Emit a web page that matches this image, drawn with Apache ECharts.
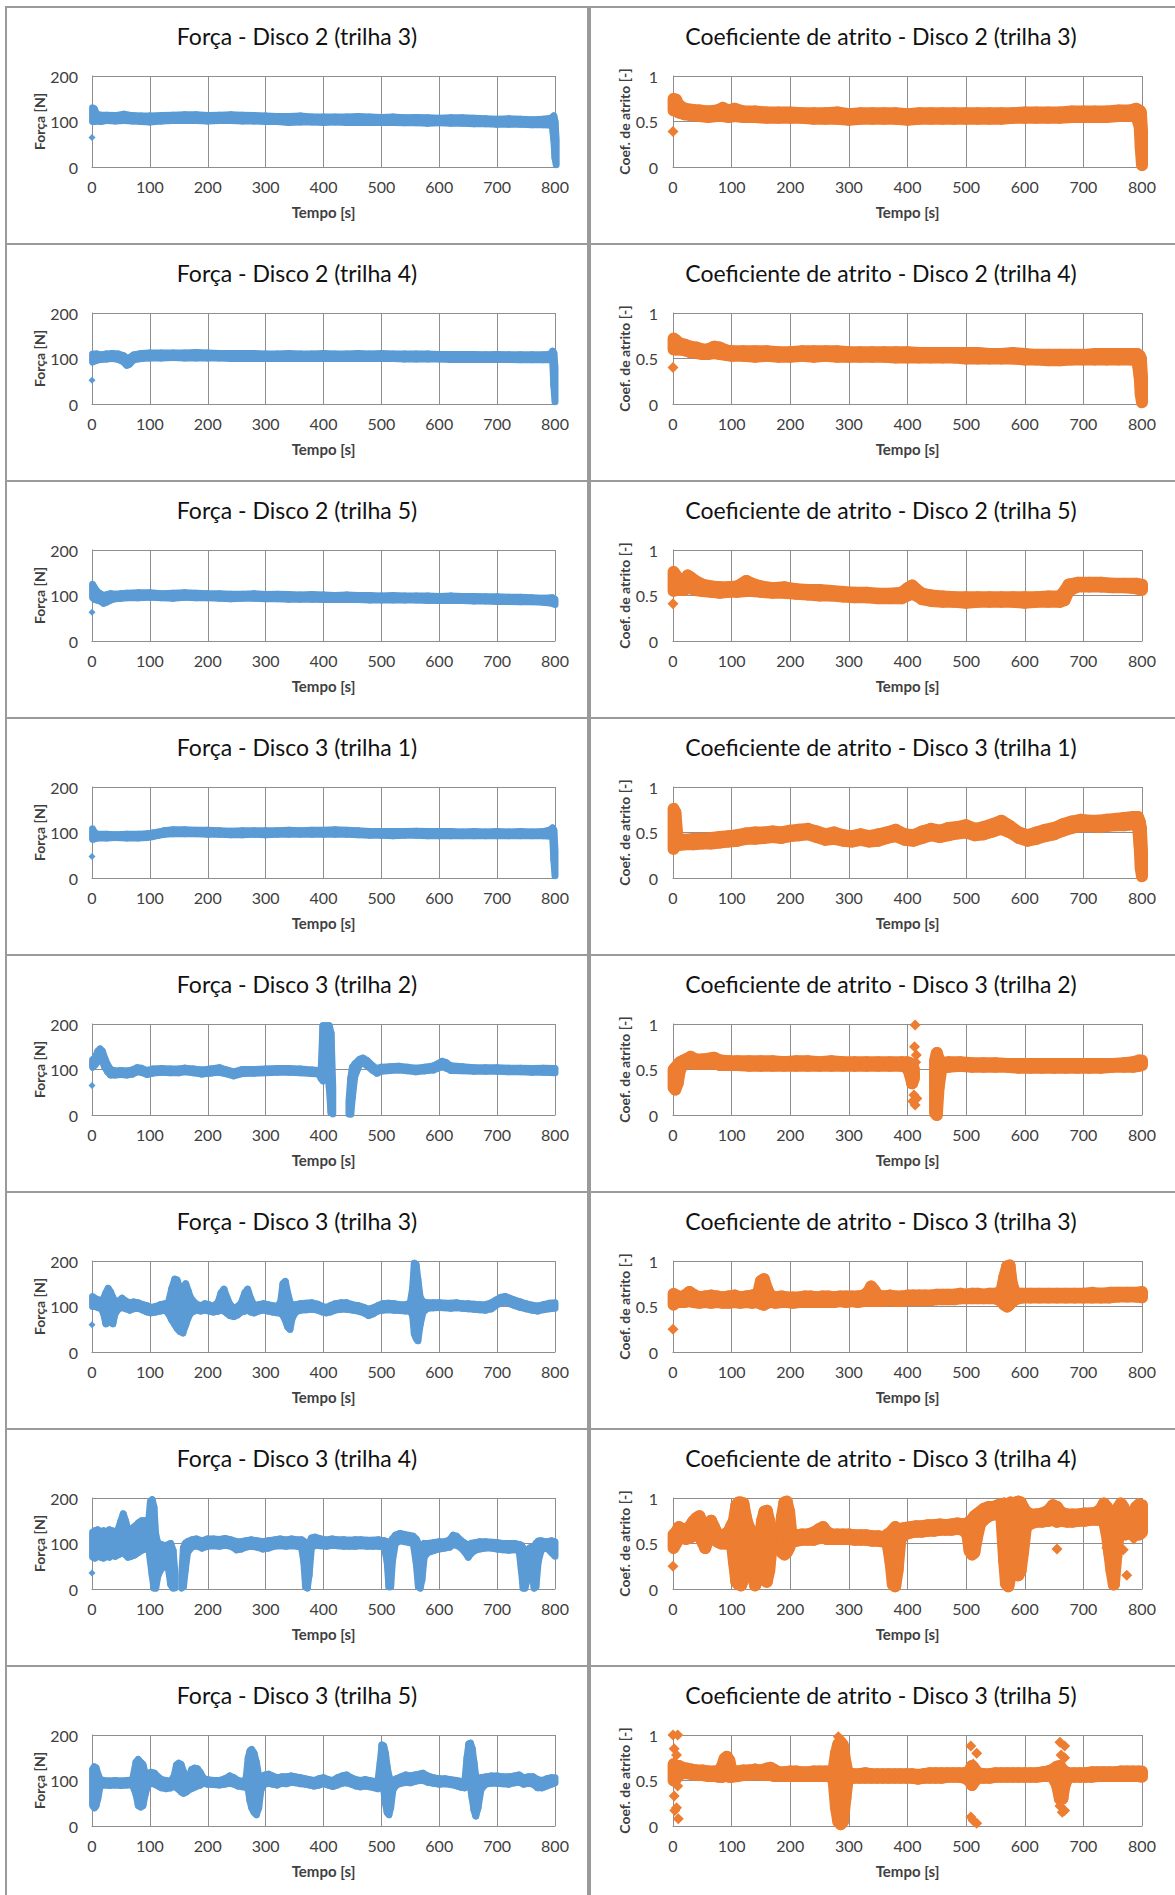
<!DOCTYPE html>
<html><head><meta charset="utf-8">
<script src="https://cdn.jsdelivr.net/npm/echarts@6/dist/echarts.min.js"></script>
<style>html,body{margin:0;padding:0;background:#fff}#c{width:1175px;height:1895px}</style>
</head><body><div id="c"></div>
<script>
// ---------- axis ticks ----------
const timeTicks = [0,100,200,300,400,500,600,700,800];
const forceTicks = [0,100,200];
const coefTicks = [0,0.5,1];

// ---------- titles ----------
const forceTitles = ['Força - Disco 2 (trilha 3)','Força - Disco 2 (trilha 4)','Força - Disco 2 (trilha 5)','Força - Disco 3 (trilha 1)','Força - Disco 3 (trilha 2)','Força - Disco 3 (trilha 3)','Força - Disco 3 (trilha 4)','Força - Disco 3 (trilha 5)'];
const coefTitles = ['Coeficiente de atrito - Disco 2 (trilha 3)','Coeficiente de atrito - Disco 2 (trilha 4)','Coeficiente de atrito - Disco 2 (trilha 5)','Coeficiente de atrito - Disco 3 (trilha 1)','Coeficiente de atrito - Disco 3 (trilha 2)','Coeficiente de atrito - Disco 3 (trilha 3)','Coeficiente de atrito - Disco 3 (trilha 4)','Coeficiente de atrito - Disco 3 (trilha 5)'];

// ---------- data: [time, low, high] of the dense point cloud; null = gap ----------
const forca_d2t3 = [[1,100,130],[4,100,128],[8,101,116],[15,100,114],[25,102,114],[40,101,113],[55,102,116],[70,101,113],[85,100,112],[100,99,112],[120,101,113],[140,102,114],[160,102,115],[180,102,115],[200,101,113],[220,102,114],[240,102,115],[260,101,114],[280,101,113],[300,100,112],[320,100,111],[340,98,111],[360,99,112],[380,99,110],[400,98,110],[420,99,110],[440,98,110],[460,98,111],[480,98,110],[500,98,109],[520,98,110],[540,97,108],[560,97,109],[580,96,108],[600,97,107],[620,96,108],[640,96,108],[660,95,107],[680,95,106],[700,94,105],[720,94,106],[740,94,105],[760,93,104],[780,93,105],[795,92,108],[798,60,112],[800,20,100],[802,5,60]];
const forca_d2t3_pts = [[0,65]];
const coef_d2t3 = [[1,0.62,0.75],[5,0.62,0.74],[10,0.6,0.68],[20,0.58,0.64],[30,0.57,0.63],[45,0.56,0.62],[60,0.55,0.61],[75,0.56,0.62],[85,0.56,0.65],[95,0.55,0.62],[105,0.56,0.64],[120,0.55,0.61],[140,0.55,0.61],[160,0.54,0.6],[180,0.54,0.6],[200,0.54,0.6],[220,0.54,0.59],[240,0.53,0.59],[260,0.53,0.59],[280,0.53,0.6],[300,0.52,0.58],[320,0.53,0.59],[340,0.53,0.59],[360,0.53,0.59],[380,0.53,0.59],[400,0.52,0.58],[420,0.53,0.59],[440,0.53,0.59],[460,0.53,0.59],[480,0.53,0.59],[500,0.53,0.59],[520,0.53,0.59],[540,0.53,0.59],[560,0.53,0.59],[580,0.54,0.59],[600,0.54,0.6],[620,0.54,0.6],[640,0.54,0.6],[660,0.54,0.6],[680,0.55,0.61],[700,0.55,0.61],[720,0.55,0.61],[740,0.55,0.61],[760,0.56,0.62],[780,0.56,0.62],[790,0.56,0.64],[796,0.45,0.62],[798,0.2,0.6],[800,0.02,0.4]];
const coef_d2t3_pts = [[0,0.39]];

const forca_d2t4 = [[1,92,110],[8,96,110],[15,98,108],[25,99,110],[35,100,111],[45,98,110],[55,92,106],[60,85,100],[65,88,102],[72,97,108],[85,100,111],[100,101,112],[120,101,112],[140,102,112],[160,101,112],[180,101,113],[200,101,112],[220,101,111],[240,100,111],[260,100,111],[280,100,111],[300,100,110],[320,100,110],[340,100,111],[360,100,110],[380,100,110],[400,100,111],[420,100,110],[440,100,110],[460,100,111],[480,100,110],[500,100,111],[520,100,110],[540,99,110],[560,99,110],[580,99,110],[600,99,109],[620,98,109],[640,98,109],[660,98,109],[680,98,108],[700,98,109],[720,98,108],[740,97,108],[760,97,108],[780,97,108],[793,97,110],[796,95,116],[798,40,112],[800,5,80]];
const forca_d2t4_pts = [[0,52]];
const coef_d2t4 = [[1,0.6,0.72],[5,0.6,0.7],[10,0.6,0.67],[20,0.59,0.65],[30,0.57,0.63],[40,0.56,0.62],[50,0.55,0.6],[60,0.55,0.6],[70,0.56,0.63],[80,0.55,0.62],[90,0.54,0.59],[100,0.53,0.58],[120,0.53,0.58],[140,0.52,0.58],[160,0.53,0.58],[180,0.52,0.57],[200,0.52,0.57],[220,0.53,0.58],[240,0.52,0.58],[260,0.53,0.58],[280,0.52,0.58],[300,0.52,0.57],[320,0.52,0.57],[340,0.52,0.57],[360,0.52,0.57],[380,0.51,0.57],[400,0.51,0.57],[420,0.51,0.56],[440,0.51,0.56],[460,0.51,0.56],[480,0.51,0.56],[500,0.5,0.56],[520,0.5,0.56],[540,0.5,0.55],[560,0.5,0.55],[580,0.5,0.56],[600,0.49,0.55],[620,0.49,0.54],[640,0.48,0.54],[660,0.48,0.54],[680,0.49,0.54],[700,0.49,0.54],[720,0.49,0.55],[740,0.49,0.55],[760,0.49,0.55],[780,0.49,0.55],[792,0.48,0.55],[796,0.3,0.53],[798,0.1,0.5],[800,0.02,0.3]];
const coef_d2t4_pts = [[0,0.4]];

const forca_d2t5 = [[1,95,125],[4,92,118],[8,90,110],[14,88,104],[20,83,100],[26,86,102],[32,90,104],[40,93,103],[50,94,104],[60,95,105],[80,95,106],[100,96,106],[120,95,104],[140,94,105],[160,96,106],[180,95,105],[200,95,104],[220,94,104],[240,93,103],[260,94,103],[280,94,104],[300,93,102],[320,93,103],[340,92,102],[360,92,101],[380,92,102],[400,91,101],[420,91,100],[440,91,101],[460,91,100],[480,90,100],[500,90,99],[520,90,100],[540,90,99],[560,90,99],[580,89,99],[600,89,98],[620,89,99],[640,89,98],[660,88,98],[680,88,97],[700,87,97],[720,87,96],[740,86,96],[760,86,95],[780,85,94],[795,83,95],[800,80,92]];
const forca_d2t5_pts = [[0,63],[801,40]];
const coef_d2t5 = [[1,0.55,0.76],[5,0.58,0.72],[10,0.56,0.68],[18,0.56,0.66],[25,0.58,0.72],[30,0.58,0.7],[38,0.56,0.66],[50,0.55,0.62],[65,0.54,0.6],[80,0.53,0.59],[95,0.54,0.59],[110,0.54,0.6],[125,0.55,0.66],[135,0.55,0.63],[150,0.54,0.6],[170,0.53,0.58],[190,0.53,0.59],[210,0.52,0.57],[230,0.51,0.56],[250,0.5,0.56],[270,0.5,0.55],[290,0.49,0.54],[310,0.48,0.53],[330,0.48,0.53],[350,0.47,0.52],[370,0.47,0.52],[390,0.47,0.53],[400,0.5,0.58],[408,0.52,0.61],[415,0.5,0.57],[425,0.46,0.52],[440,0.44,0.5],[460,0.43,0.49],[480,0.43,0.48],[500,0.42,0.48],[520,0.43,0.48],[540,0.43,0.48],[560,0.43,0.48],[580,0.43,0.48],[600,0.42,0.48],[620,0.43,0.48],[640,0.43,0.49],[660,0.43,0.49],[668,0.45,0.55],[675,0.55,0.62],[690,0.6,0.64],[710,0.6,0.64],[730,0.6,0.64],[750,0.59,0.63],[770,0.59,0.63],[790,0.58,0.63],[800,0.56,0.62]];
const coef_d2t5_pts = [[0,0.41],[801,0.35]];

const forca_d3t1 = [[1,85,108],[4,86,100],[10,88,96],[25,88,96],[40,89,95],[60,88,96],[80,88,96],[95,89,97],[105,91,99],[115,94,101],[125,96,104],[140,97,106],[160,97,106],[180,97,105],[200,96,105],[220,96,104],[240,95,103],[260,95,104],[280,96,104],[300,95,104],[320,96,104],[340,96,105],[360,96,104],[380,96,105],[400,96,105],[420,96,106],[440,96,105],[460,95,104],[480,94,102],[500,94,102],[520,93,102],[540,94,102],[560,94,103],[580,93,102],[600,93,102],[620,93,102],[640,93,101],[660,93,102],[680,93,101],[700,93,102],[720,93,101],[740,93,102],[760,93,101],[780,93,102],[793,92,106],[796,90,110],[798,40,105],[800,5,60]];
const forca_d3t1_pts = [[0,47]];
const coef_d3t1 = [[1,0.32,0.76],[4,0.36,0.72],[8,0.36,0.42],[20,0.37,0.42],[35,0.37,0.43],[50,0.38,0.43],[65,0.38,0.44],[80,0.39,0.45],[95,0.4,0.46],[110,0.41,0.47],[125,0.43,0.49],[140,0.43,0.5],[155,0.44,0.5],[170,0.45,0.51],[185,0.44,0.5],[200,0.46,0.52],[215,0.47,0.53],[230,0.48,0.54],[245,0.45,0.51],[260,0.42,0.48],[275,0.43,0.5],[290,0.41,0.47],[305,0.4,0.46],[320,0.42,0.48],[335,0.4,0.46],[350,0.41,0.48],[365,0.44,0.5],[380,0.46,0.53],[395,0.42,0.48],[410,0.41,0.47],[425,0.44,0.51],[440,0.47,0.54],[455,0.45,0.52],[470,0.47,0.55],[485,0.49,0.56],[500,0.5,0.58],[515,0.47,0.54],[530,0.48,0.56],[545,0.51,0.59],[560,0.54,0.63],[575,0.5,0.57],[590,0.44,0.5],[605,0.41,0.47],[620,0.43,0.5],[635,0.46,0.53],[650,0.48,0.55],[665,0.52,0.59],[680,0.55,0.62],[695,0.57,0.64],[710,0.57,0.63],[725,0.56,0.63],[740,0.57,0.64],[755,0.58,0.65],[770,0.58,0.66],[785,0.59,0.67],[793,0.58,0.67],[796,0.35,0.62],[798,0.1,0.55],[800,0.02,0.3]];
const coef_d3t1_pts = [];

const forca_d3t2 = [[1,105,122],[5,110,125],[10,118,140],[14,125,145],[18,118,140],[22,105,125],[27,95,110],[32,88,100],[40,88,97],[50,89,98],[60,88,97],[70,90,99],[78,95,104],[85,94,103],[95,89,98],[105,92,101],[120,94,102],[135,93,101],[150,93,101],[160,95,103],[175,93,101],[190,90,99],[205,92,101],[220,94,104],[230,91,100],[245,86,95],[260,91,100],[280,92,100],[300,93,101],[320,94,102],[340,94,102],[360,93,101],[380,91,99],[392,90,98],[396,80,100],[399,75,196],[403,90,196],[407,110,196],[410,60,196],[413,5,180],[416,2,60],null,[444,2,30],[447,2,80],[450,40,105],[454,85,112],[462,110,122],[468,115,125],[475,108,120],[485,98,108],[492,92,102],[500,96,105],[515,98,106],[530,99,107],[545,97,105],[560,95,103],[575,97,105],[590,99,108],[605,106,118],[612,103,115],[620,98,108],[640,97,106],[660,96,104],[680,96,104],[700,96,104],[720,95,103],[740,95,103],[760,94,102],[780,94,103],[800,93,102]];
const forca_d3t2_pts = [[0,65],[801,55]];
const coef_d3t2 = [[1,0.3,0.5],[4,0.28,0.52],[8,0.35,0.55],[12,0.5,0.58],[18,0.56,0.6],[25,0.57,0.62],[30,0.58,0.64],[38,0.56,0.61],[50,0.56,0.61],[62,0.56,0.62],[70,0.57,0.63],[80,0.55,0.6],[95,0.55,0.59],[110,0.55,0.59],[130,0.54,0.59],[150,0.54,0.59],[170,0.54,0.59],[190,0.54,0.58],[210,0.54,0.59],[230,0.54,0.59],[250,0.54,0.58],[270,0.54,0.59],[290,0.54,0.58],[310,0.54,0.58],[330,0.54,0.58],[350,0.54,0.58],[370,0.54,0.58],[390,0.54,0.58],[400,0.52,0.58],[404,0.45,0.57],[408,0.35,0.55],[411,0.4,0.5],null,[447,0.02,0.6],[450,0.0,0.68],[453,0.3,0.62],[458,0.52,0.57],[470,0.53,0.58],[490,0.54,0.58],[510,0.53,0.57],[530,0.53,0.57],[550,0.53,0.57],[570,0.53,0.56],[590,0.52,0.56],[610,0.52,0.56],[630,0.52,0.56],[650,0.52,0.56],[670,0.52,0.56],[690,0.52,0.56],[710,0.52,0.56],[730,0.52,0.56],[750,0.53,0.56],[770,0.53,0.57],[785,0.53,0.58],[795,0.54,0.6],[800,0.55,0.6]];
const coef_d3t2_pts = [[413,0.99],[412,0.75],[415,0.66],[414,0.58],[411,0.22],[416,0.18],[409,0.15],[413,0.11],[801,0.32]];

const forca_d3t3 = [[1,100,122],[5,100,118],[10,98,115],[16,95,112],[20,85,118],[24,62,130],[28,65,140],[32,70,132],[36,62,120],[40,85,110],[46,95,112],[52,98,118],[58,95,112],[65,92,108],[72,95,110],[80,96,108],[88,92,104],[95,88,102],[102,86,98],[110,88,100],[118,90,104],[126,92,106],[132,85,108],[138,70,140],[143,60,160],[147,52,158],[152,45,140],[157,42,130],[162,60,150],[166,75,135],[170,85,120],[176,90,110],[182,92,104],[188,90,102],[195,92,106],[202,90,104],[210,88,100],[218,90,110],[223,92,130],[228,90,138],[233,85,120],[238,80,105],[245,78,96],[252,82,100],[258,88,108],[264,90,130],[269,92,138],[274,88,118],[280,86,102],[288,90,104],[296,92,106],[304,90,104],[312,88,102],[320,86,100],[326,85,110],[330,80,150],[334,70,155],[338,55,130],[342,50,110],[346,75,100],[352,88,104],[360,92,106],[370,93,107],[380,94,108],[390,92,105],[398,88,100],[405,86,98],[412,88,102],[420,92,106],[430,94,108],[440,94,108],[450,92,104],[460,90,102],[470,86,98],[478,80,94],[486,84,97],[494,90,102],[502,92,106],[512,93,107],[522,92,106],[532,91,104],[542,90,104],[550,90,108],[554,80,140],[557,40,195],[560,30,192],[563,25,160],[567,60,120],[572,88,110],[580,96,108],[590,97,108],[600,98,108],[610,97,107],[620,96,107],[630,97,108],[640,96,106],[650,95,106],[660,94,105],[670,93,104],[680,92,104],[690,95,108],[698,102,114],[706,108,120],[714,110,122],[722,106,118],[730,102,114],[740,98,110],[750,95,106],[760,92,103],[770,90,101],[780,93,104],[790,95,107],[800,96,108]];
const forca_d3t3_pts = [[0,60],[801,53]];
const coef_d3t3 = [[1,0.52,0.64],[6,0.55,0.62],[12,0.55,0.6],[20,0.55,0.62],[28,0.56,0.66],[35,0.55,0.63],[45,0.54,0.6],[55,0.55,0.61],[65,0.54,0.62],[75,0.55,0.61],[85,0.54,0.6],[95,0.54,0.61],[105,0.55,0.62],[115,0.54,0.6],[125,0.55,0.61],[135,0.54,0.62],[145,0.55,0.64],[150,0.53,0.78],[155,0.52,0.8],[160,0.54,0.7],[166,0.55,0.62],[175,0.54,0.6],[185,0.55,0.61],[195,0.55,0.6],[205,0.54,0.6],[215,0.55,0.6],[225,0.55,0.61],[235,0.55,0.61],[245,0.55,0.6],[255,0.55,0.61],[265,0.55,0.61],[275,0.55,0.6],[285,0.56,0.61],[295,0.55,0.61],[305,0.56,0.61],[315,0.55,0.61],[325,0.56,0.62],[333,0.56,0.66],[338,0.56,0.72],[343,0.56,0.68],[350,0.56,0.62],[360,0.56,0.61],[370,0.57,0.62],[380,0.56,0.61],[390,0.56,0.61],[400,0.57,0.62],[410,0.57,0.62],[420,0.57,0.62],[430,0.57,0.62],[440,0.57,0.62],[450,0.58,0.63],[460,0.58,0.63],[470,0.58,0.63],[480,0.58,0.63],[490,0.59,0.64],[500,0.59,0.63],[510,0.59,0.64],[520,0.59,0.64],[530,0.59,0.63],[540,0.59,0.64],[550,0.59,0.64],[560,0.56,0.66],[565,0.52,0.82],[570,0.5,0.94],[574,0.52,0.95],[578,0.55,0.75],[584,0.58,0.64],[595,0.6,0.64],[610,0.6,0.64],[625,0.6,0.64],[640,0.6,0.64],[655,0.6,0.64],[670,0.6,0.64],[685,0.6,0.64],[700,0.6,0.64],[715,0.6,0.65],[730,0.6,0.64],[745,0.6,0.65],[760,0.61,0.65],[775,0.61,0.65],[790,0.61,0.65],[800,0.6,0.66]];
const coef_d3t3_pts = [[0,0.25],[801,0.33]];

const forca_d3t4 = [[1,70,125],[5,68,128],[10,72,130],[15,70,126],[20,68,128],[25,72,126],[30,70,130],[35,74,128],[40,72,126],[45,75,130],[50,78,150],[54,80,165],[58,75,150],[62,70,130],[68,72,132],[74,75,138],[80,80,145],[86,85,150],[92,88,150],[98,90,150],[101,60,192],[104,30,196],[107,2,180],[110,2,120],[114,30,100],[120,45,98],[126,50,95],[132,45,98],[136,10,100],[140,2,85],[143,2,40],null,[155,2,30],[158,5,90],[161,40,100],[165,80,104],[172,92,108],[180,95,110],[190,90,106],[200,94,110],[210,95,110],[220,94,109],[230,96,111],[240,94,108],[250,86,104],[258,88,104],[266,92,106],[275,94,108],[285,92,106],[295,88,104],[305,90,106],[315,94,108],[325,95,110],[335,94,108],[345,95,110],[355,94,108],[362,92,108],[366,60,105],[369,5,95],[372,2,80],[375,30,100],[379,90,112],[385,96,114],[395,95,110],[405,94,108],[415,96,110],[425,95,108],[435,94,108],[445,94,107],[455,94,108],[465,95,108],[475,94,107],[485,94,107],[495,94,108],[505,92,106],[510,60,104],[513,5,95],[516,5,90],[519,60,110],[524,100,118],[532,106,122],[540,104,120],[548,102,118],[555,100,116],[560,60,110],[564,5,100],[567,2,80],[570,20,90],[574,70,100],[580,80,100],[590,84,102],[600,88,104],[610,90,104],[618,92,108],[624,98,118],[630,96,116],[638,90,106],[645,80,100],[650,70,95],[655,78,100],[662,85,102],[670,88,104],[680,90,104],[690,90,103],[700,88,102],[710,86,100],[720,85,100],[730,86,100],[738,85,98],[742,40,96],[745,2,90],[748,2,70],[752,20,80],[756,60,90],[760,40,92],[764,2,90],[767,5,100],[771,60,105],[776,85,106],[782,90,104],[788,88,104],[794,80,106],[800,72,104]];
const forca_d3t4_pts = [[0,35],[801,25]];
const coef_d3t4 = [[1,0.45,0.6],[5,0.5,0.62],[10,0.55,0.68],[16,0.57,0.66],[22,0.55,0.65],[28,0.56,0.68],[34,0.58,0.74],[40,0.6,0.78],[45,0.62,0.8],[50,0.52,0.72],[55,0.45,0.65],[60,0.55,0.72],[65,0.6,0.75],[70,0.55,0.68],[76,0.52,0.6],[82,0.5,0.58],[88,0.5,0.6],[94,0.5,0.62],[100,0.52,0.7],[104,0.3,0.75],[108,0.08,0.92],[112,0.05,0.95],[116,0.04,0.95],[120,0.1,0.94],[124,0.3,0.8],[128,0.45,0.7],[132,0.4,0.65],[136,0.2,0.62],[140,0.04,0.6],[144,0.1,0.55],[148,0.3,0.55],[152,0.2,0.75],[156,0.1,0.85],[160,0.08,0.86],[164,0.2,0.75],[168,0.45,0.6],[175,0.5,0.58],[182,0.48,0.6],[186,0.4,0.8],[190,0.38,0.95],[194,0.4,0.96],[198,0.45,0.85],[202,0.52,0.6],[210,0.53,0.59],[220,0.54,0.6],[230,0.54,0.6],[240,0.54,0.62],[250,0.56,0.66],[256,0.57,0.68],[262,0.55,0.63],[270,0.55,0.6],[280,0.55,0.6],[290,0.55,0.6],[300,0.55,0.6],[310,0.54,0.59],[320,0.54,0.59],[330,0.54,0.59],[340,0.53,0.58],[350,0.53,0.58],[360,0.52,0.57],[366,0.5,0.6],[371,0.3,0.62],[375,0.05,0.65],[379,0.03,0.68],[383,0.2,0.66],[388,0.55,0.66],[395,0.6,0.67],[405,0.62,0.68],[415,0.63,0.69],[425,0.63,0.69],[435,0.64,0.7],[445,0.64,0.7],[455,0.65,0.71],[465,0.65,0.7],[475,0.65,0.71],[485,0.66,0.72],[495,0.65,0.71],[502,0.6,0.72],[506,0.42,0.74],[510,0.38,0.76],[514,0.4,0.8],[518,0.55,0.82],[524,0.72,0.85],[530,0.76,0.88],[538,0.8,0.9],[546,0.82,0.9],[554,0.82,0.92],[560,0.8,0.93],[565,0.3,0.94],[568,0.06,0.92],[572,0.03,0.93],[576,0.15,0.95],[580,0.3,0.94],[585,0.25,0.95],[589,0.15,0.96],[593,0.2,0.95],[597,0.4,0.9],[602,0.68,0.85],[610,0.72,0.82],[620,0.74,0.82],[630,0.74,0.83],[640,0.75,0.86],[648,0.76,0.92],[655,0.74,0.9],[662,0.75,0.84],[672,0.74,0.82],[682,0.74,0.82],[692,0.75,0.82],[702,0.75,0.83],[712,0.76,0.83],[722,0.76,0.84],[730,0.76,0.88],[735,0.75,0.94],[740,0.6,0.9],[744,0.4,0.86],[748,0.2,0.8],[752,0.05,0.7],[756,0.35,0.8],[760,0.6,0.9],[764,0.7,0.94],[768,0.65,0.9],[772,0.6,0.85],[776,0.65,0.82],[780,0.7,0.83],[786,0.7,0.85],[790,0.62,0.9],[795,0.6,0.93],[800,0.62,0.92]];
const coef_d3t4_pts = [[0,0.25],[655,0.44],[774,0.15],[768,0.43],[740,0.45],[750,0.3],[786,0.55],[760,0.58]];

const forca_d3t5 = [[1,45,125],[4,40,130],[7,45,128],[10,60,115],[14,88,102],[20,90,100],[30,89,99],[40,90,100],[50,89,99],[60,90,100],[70,90,101],[76,70,140],[80,45,146],[84,42,140],[88,45,135],[92,70,115],[96,88,115],[102,94,118],[108,92,116],[114,88,108],[120,84,102],[128,82,100],[136,84,98],[142,88,110],[146,84,134],[150,80,138],[154,75,135],[158,72,120],[163,75,105],[168,80,110],[172,82,124],[177,85,127],[182,88,126],[187,90,118],[193,94,104],[200,92,102],[210,91,100],[220,90,100],[230,92,104],[238,94,110],[245,92,106],[252,88,100],[260,86,98],[266,85,102],[270,80,150],[273,55,165],[276,40,168],[280,30,160],[284,25,140],[288,40,110],[292,80,108],[298,92,112],[305,94,114],[312,92,110],[320,90,106],[328,94,108],[336,93,108],[344,96,110],[352,95,108],[360,93,106],[368,92,104],[376,90,102],[384,88,100],[392,90,104],[400,93,106],[408,90,102],[416,87,100],[424,90,106],[432,94,110],[440,95,112],[448,92,106],[456,88,102],[464,86,100],[472,88,102],[480,86,100],[488,84,98],[494,82,98],[498,85,140],[501,90,178],[504,80,176],[507,50,160],[510,30,130],[513,25,110],[516,40,100],[520,80,100],[526,90,104],[534,94,108],[542,96,112],[550,95,110],[558,98,112],[566,100,114],[572,100,116],[580,96,110],[590,94,106],[600,92,104],[610,93,104],[620,91,102],[630,88,100],[638,85,98],[644,84,96],[648,90,150],[651,100,180],[654,85,182],[657,60,170],[660,35,140],[663,22,110],[667,40,100],[672,80,106],[680,92,108],[690,94,110],[700,94,110],[710,93,108],[720,92,108],[730,95,110],[738,96,112],[746,92,106],[754,94,108],[762,92,108],[770,84,102],[778,84,100],[786,88,104],[794,92,106],[800,94,106]];
const forca_d3t5_pts = [[801,55]];
const coef_d3t5 = [[1,0.5,0.68],[5,0.52,0.66],[10,0.56,0.66],[16,0.58,0.64],[24,0.58,0.63],[32,0.57,0.62],[40,0.56,0.61],[50,0.56,0.61],[60,0.55,0.6],[70,0.55,0.6],[78,0.54,0.6],[84,0.54,0.66],[88,0.55,0.74],[92,0.55,0.76],[96,0.54,0.72],[100,0.54,0.6],[110,0.55,0.6],[120,0.56,0.61],[130,0.56,0.61],[140,0.57,0.62],[150,0.56,0.61],[160,0.56,0.63],[166,0.56,0.64],[172,0.55,0.62],[180,0.55,0.59],[190,0.55,0.59],[200,0.55,0.6],[210,0.55,0.6],[220,0.55,0.59],[230,0.55,0.59],[240,0.55,0.6],[250,0.55,0.6],[260,0.55,0.6],[268,0.55,0.6],[274,0.5,0.62],[278,0.2,0.8],[282,0.05,0.9],[286,0.02,0.92],[290,0.05,0.88],[294,0.3,0.7],[298,0.52,0.58],[308,0.53,0.57],[318,0.53,0.57],[328,0.53,0.58],[338,0.53,0.57],[348,0.53,0.57],[358,0.53,0.57],[368,0.53,0.57],[378,0.53,0.57],[388,0.53,0.57],[398,0.53,0.57],[408,0.53,0.57],[418,0.52,0.56],[428,0.53,0.57],[438,0.53,0.58],[448,0.53,0.58],[458,0.53,0.58],[468,0.54,0.58],[478,0.54,0.58],[488,0.54,0.58],[498,0.53,0.58],[505,0.5,0.6],[510,0.45,0.66],[515,0.5,0.62],[520,0.53,0.58],[530,0.53,0.57],[540,0.53,0.57],[550,0.54,0.58],[560,0.54,0.58],[570,0.54,0.58],[580,0.54,0.58],[590,0.54,0.58],[600,0.54,0.58],[610,0.54,0.58],[620,0.54,0.58],[630,0.55,0.59],[640,0.55,0.6],[648,0.54,0.62],[655,0.45,0.65],[660,0.3,0.66],[664,0.3,0.62],[668,0.45,0.6],[674,0.54,0.58],[684,0.54,0.58],[694,0.54,0.58],[704,0.54,0.58],[714,0.54,0.59],[724,0.55,0.59],[734,0.55,0.59],[744,0.55,0.59],[754,0.55,0.59],[764,0.55,0.6],[774,0.55,0.6],[784,0.55,0.6],[794,0.55,0.6],[800,0.54,0.6]];
const coef_d3t5_pts = [[0,1.0],[8,1.0],[2,0.85],[6,0.78],[1,0.68],[8,0.44],[2,0.33],[6,0.2],[3,0.17],[9,0.08],[282,0.98],[290,0.92],[286,0.95],[508,0.88],[518,0.8],[512,0.68],[508,0.1],[512,0.06],[518,0.03],[660,0.92],[668,0.88],[662,0.78],[668,0.75],[664,0.38],[666,0.3],[660,0.22],[668,0.17],[664,0.15],[801,0.31]];

// ---------- assembly ----------
const forceBands = [forca_d2t3,forca_d2t4,forca_d2t5,forca_d3t1,forca_d3t2,forca_d3t3,forca_d3t4,forca_d3t5];
const forcePts = [forca_d2t3_pts,forca_d2t4_pts,forca_d2t5_pts,forca_d3t1_pts,forca_d3t2_pts,forca_d3t3_pts,forca_d3t4_pts,forca_d3t5_pts];
const coefBands = [coef_d2t3,coef_d2t4,coef_d2t5,coef_d3t1,coef_d3t2,coef_d3t3,coef_d3t4,coef_d3t5];
const coefPts = [coef_d2t3_pts,coef_d2t4_pts,coef_d2t5_pts,coef_d3t1_pts,coef_d3t2_pts,coef_d3t3_pts,coef_d3t4_pts,coef_d3t5_pts];

const BLUE = '#5B9BD5', ORANGE = '#ED7D31', GRID = '#8e8e8e', BORDER = '#9a9a9a', TXT = '#404040';
const FONT = 'Lato, "Noto Sans", sans-serif';
const ROW0 = 7, ROWH = 237;

function segments(arr){
  const out=[];
  for(let i=0;i<arr.length-1;i++){const a=arr[i],b=arr[i+1]; if(a&&b) out.push([a[0],a[1],a[2],b[0],b[1],b[2]]);}
  return out;
}

const grids=[], xAxes=[], yAxes=[], series=[], titles=[], graphics=[];
for(let r=0;r<8;r++){
  const top = ROW0 + ROWH*r;
  graphics.push({type:'rect', shape:{x:6,y:top,width:582,height:ROWH}, style:{fill:'none',stroke:BORDER,lineWidth:2}, silent:true});
  graphics.push({type:'rect', shape:{x:590,y:top,width:590,height:ROWH}, style:{fill:'none',stroke:BORDER,lineWidth:2}, silent:true});
  for(let c=0;c<2;c++){
    const k = r*2+c;
    const isF = c===0;
    grids.push(isF ? {left:92, top:top+69, width:463, height:91} : {left:673, top:top+69, width:469, height:91});
    titles.push({text: isF?forceTitles[r]:coefTitles[r], left: isF?297:881, top: top+17, textAlign:'center', padding:0,
      textStyle:{fontFamily:FONT, fontSize:23, fontWeight:'normal', color:'#111111'}});
    xAxes.push({gridIndex:k, type:'value', min:timeTicks[0], max:timeTicks[timeTicks.length-1], interval:timeTicks[1]-timeTicks[0],
      axisLine:{show:true, lineStyle:{color:GRID, width:1}}, axisTick:{show:false},
      splitLine:{show:true, lineStyle:{color:GRID, width:1}},
      axisLabel:{fontFamily:FONT, fontSize:16, color:TXT, margin:11},
      name:'Tempo [s]', nameLocation:'middle', nameGap:37, nameTextStyle:{fontFamily:FONT, fontSize:15, color:TXT, fontWeight:'bold'}});
    const ticks = isF?forceTicks:coefTicks;
    yAxes.push({gridIndex:k, type:'value', min:ticks[0], max:ticks[ticks.length-1], interval:ticks[1]-ticks[0],
      axisLine:{show:true, lineStyle:{color:GRID, width:1}}, axisTick:{show:false},
      splitLine:{show:true, lineStyle:{color:GRID, width:1}},
      axisLabel:{fontFamily:FONT, fontSize:16, color:TXT, margin:isF?14:15},
      name: isF?'Força [N]':'Coef. de atrito [-]', nameLocation:'middle', nameGap: isF?46:41, nameRotate:90,
      nameTextStyle:{fontFamily:FONT, fontSize:14, color:TXT, fontWeight:'bold'}});
    const band = isF?forceBands[r]:coefBands[r];
    const pts = isF?forcePts[r]:coefPts[r];
    const color = isF?BLUE:ORANGE;
    const lw = isF?7:12;
    series.push({type:'custom', xAxisIndex:k, yAxisIndex:k, data: segments(band), silent:true, animation:false,
      encode:{x:[0,3], y:[1,2,4,5]},
      renderItem:(params, api)=>{
        const p1=api.coord([api.value(0),api.value(2)]), p2=api.coord([api.value(3),api.value(5)]);
        const p3=api.coord([api.value(3),api.value(4)]), p4=api.coord([api.value(0),api.value(1)]);
        return {type:'polygon', shape:{points:[p1,p2,p3,p4]}, style:{fill:color, stroke:color, lineWidth:lw, lineJoin:'round'}};
      }});
    series.push({type:'scatter', xAxisIndex:k, yAxisIndex:k, data: pts, symbol:'diamond', symbolSize: isF?7:11,
      itemStyle:{color:color, opacity:1}, silent:true, animation:false});
  }
}

const chart = echarts.init(document.getElementById('c'), null, {renderer:'svg'});
chart.setOption({backgroundColor:'#ffffff', animation:false, title:titles, grid:grids, xAxis:xAxes, yAxis:yAxes, series:series, graphic:graphics});
</script>
</body></html>
